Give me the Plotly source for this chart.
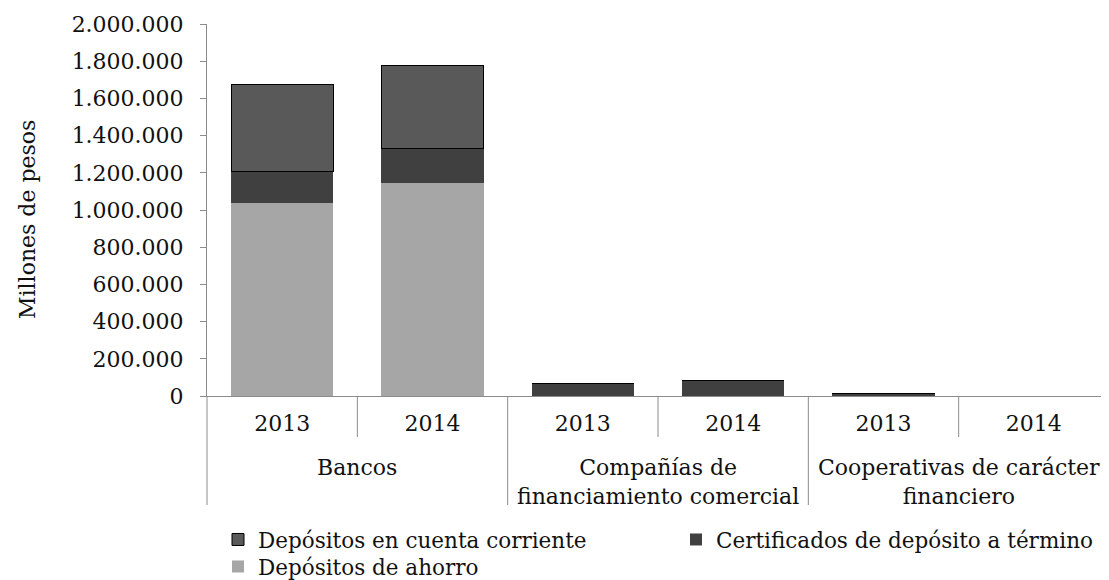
import plotly.graph_objects as go

# ---- data ----
groups = ["Bancos", "Compañías de<br>financiamiento comercial", "Cooperativas de carácter<br>financiero"]
years = ["2013", "2014"]
ahorro = [1039000, 1144000, 0, 0, 0, 0]          # Depósitos de ahorro
cdt = [167000, 188000, 68000, 84000, 16000, 0]   # Certificados de depósito a término
cc = [470000, 444000, 0, 0, 0, 0]                # Depósitos en cuenta corriente
yticks = list(range(0, 2000001, 200000))

FONT = "DejaVu Serif"
GRAY = "#8c8c8c"
TXT = "#111111"

# the page body has an 8px default margin; size the figure to fit the window
OFF = 8
W, H = 1109 - OFF, 580 - OFF
ML, MT = 207 - OFF, 24 - OFF
plot_h = 372
MB = H - MT - plot_h

n = len(groups) * len(years)
xpos = list(range(n))
xlabels = [y for g in groups for y in years]
rng = [-0.5, n - 0.5]

def to_paper(v):
    return (v - rng[0]) / (rng[1] - rng[0])

fig = go.Figure()
fig.add_trace(go.Bar(x=xpos, y=ahorro, name="Depósitos de ahorro",
                     marker=dict(color="#a6a6a6", line=dict(width=0)),
                     legend="legend3", showlegend=True))
fig.add_trace(go.Bar(x=xpos, y=cdt, name="Certificados de depósito a término",
                     marker=dict(color="#404040", line=dict(width=0)),
                     legend="legend2", showlegend=True))
fig.add_trace(go.Bar(x=xpos, y=cc, name="Depósitos en cuenta corriente",
                     marker=dict(color="#595959", line=dict(width=1, color="#000000")),
                     legend="legend", showlegend=True))

shapes = []
# inner separators between years
for g in range(len(groups)):
    xb = to_paper(g * 2 + 0.5)
    shapes.append(dict(type="line", xref="paper", yref="paper", x0=xb, x1=xb,
                       y0=0, y1=-41 / plot_h, line=dict(color=GRAY, width=1)))
# group dividers
for g in range(len(groups) + 1):
    xb = to_paper(g * 2 - 0.5)
    shapes.append(dict(type="line", xref="paper", yref="paper", x0=xb, x1=xb,
                       y0=0, y1=-109 / plot_h, line=dict(color=GRAY, width=1)))

annotations = []
for g, name in enumerate(groups):
    annotations.append(dict(x=g * 2 + 0.5, xref="x", y=-57 / plot_h, yref="paper",
                            text=name, showarrow=False, yanchor="top", xanchor="center",
                            font=dict(family=FONT, size=22, color=TXT)))
# y-axis title
annotations.append(dict(x=-(207 - 27) / (W - ML), xref="paper", y=(396 - 220) / plot_h,
                        yref="paper", text="Millones de pesos", textangle=-90,
                        showarrow=False, xanchor="center", yanchor="middle",
                        font=dict(family=FONT, size=22, color=TXT)))

def leg(xpx, ypx):
    return dict(x=(xpx - OFF) / W, xref="container", y=1 - (ypx - OFF) / H, yref="container",
                xanchor="left", yanchor="top", orientation="v", visible=True,
                bgcolor="rgba(0,0,0,0)", font=dict(family=FONT, size=21.5, color=TXT))

fig.update_layout(
    width=W, height=H,
    showlegend=True,
    margin=dict(l=ML, r=0, t=MT, b=MB, autoexpand=False),
    paper_bgcolor="white", plot_bgcolor="white",
    barmode="stack", bargap=0.32,
    separators=",.",
    font=dict(family=FONT, size=22, color=TXT),
    shapes=shapes, annotations=annotations,
    xaxis=dict(range=rng, tickvals=xpos, ticktext=xlabels, ticks="",
               showline=True, linecolor=GRAY, linewidth=1, showgrid=False,
               zeroline=False, ticklabelstandoff=8,
               tickfont=dict(family=FONT, size=22, color=TXT)),
    yaxis=dict(range=[0, 2000000], tickvals=yticks, tickformat=",d",
               ticks="outside", ticklen=6, tickcolor=GRAY,
               showline=True, linecolor=GRAY, linewidth=1, showgrid=False,
               zeroline=False, ticklabelstandoff=12,
               tickfont=dict(family=FONT, size=22, color=TXT)),
    legend=leg(218, 519),
    legend2=leg(676, 519),
    legend3=leg(218, 546),
)

fig.write_html("out.html")
